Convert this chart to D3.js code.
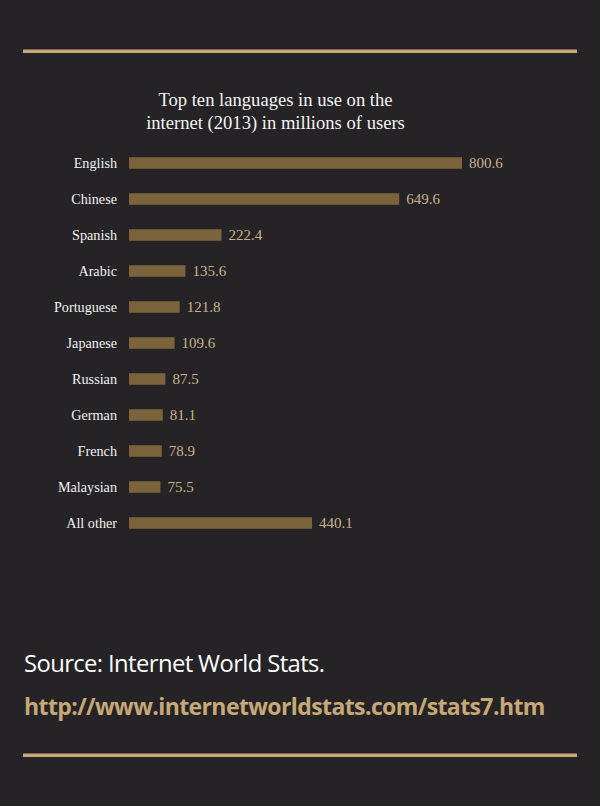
<!DOCTYPE html>
<html>
<head>
<meta charset="utf-8">
<script src="https://cdn.jsdelivr.net/npm/d3@7"></script>
<style>
  html, body { margin: 0; padding: 0; background: #252326; }
  svg { display: block; }
</style>
</head>
<body>
<script>
var width = 600, height = 806;

// data
var languages = ["English", "Chinese", "Spanish", "Arabic", "Portuguese", "Japanese",
                 "Russian", "German", "French", "Malaysian", "All other"];
var users = [800.6, 649.6, 222.4, 135.6, 121.8, 109.6, 87.5, 81.1, 78.9, 75.5, 440.1];
var titleLines = ["Top ten languages in use on the", "internet (2013) in millions of users"];
var sourceText = "Source: Internet World Stats.";
var sourceUrl = "http://www.internetworldstats.com/stats7.htm";

var gold = "#c7a877";
var barColor = "#7b633b";
var labelColor = "#c9b28b";
var serif = "'Liberation Serif', 'Times New Roman', serif";

var chart = {left: 129, top: 145, step: 36};

var x = d3.scaleLinear()
    .domain([0, 800.6])
    .range([0, 333]);

var y = d3.scaleBand()
    .domain(languages)
    .range([chart.top, chart.top + chart.step * languages.length])
    .paddingInner(0.68)
    .paddingOuter(0.34);

var svg = d3.select("body").append("svg")
    .attr("width", width)
    .attr("height", height);

svg.append("rect")
    .attr("width", width)
    .attr("height", height)
    .attr("fill", "#252326");

// rules top and bottom
svg.append("rect").attr("x", 23).attr("y", 49.5).attr("width", 554).attr("height", 3.5).attr("fill", gold);
svg.append("rect").attr("x", 23).attr("y", 753.5).attr("width", 554).attr("height", 3.5).attr("fill", gold);

// title
svg.append("g").selectAll("text")
    .data(titleLines)
    .enter().append("text")
    .attr("x", 275.5)
    .attr("y", function(d, i) { return 106 + i * 23; })
    .attr("text-anchor", "middle")
    .attr("fill", "#f2f2f2")
    .style("font-family", serif)
    .style("font-size", "18.6px")
    .text(function(d) { return d; });

var g = svg.append("g").attr("transform", "translate(" + chart.left + ",0)");

var rows = languages.map(function(d, i) { return {lang: d, value: users[i]}; });

g.selectAll(".bar")
    .data(rows)
    .enter().append("rect")
    .attr("class", "bar")
    .attr("x", 0)
    .attr("y", function(d) { return y(d.lang); })
    .attr("width", function(d) { return x(d.value); })
    .attr("height", y.bandwidth())
    .attr("fill", barColor);

var yAxis = d3.axisLeft(y).tickSize(0).tickPadding(12);
g.append("g")
    .call(yAxis)
    .call(function(a) { a.select(".domain").remove(); })
    .selectAll("text")
    .attr("fill", "#f0f0f0")
    .style("font-family", serif)
    .style("font-size", "14.2px");

g.selectAll(".val")
    .data(rows)
    .enter().append("text")
    .attr("class", "val")
    .attr("x", function(d) { return x(d.value) + 7; })
    .attr("y", function(d) { return y(d.lang) + y.bandwidth() / 2; })
    .attr("dy", "0.35em")
    .attr("fill", labelColor)
    .style("font-family", serif)
    .style("font-size", "15px")
    .text(function(d) { return d3.format(".1f")(d.value); });

// source
svg.append("text")
    .attr("x", 24)
    .attr("y", 672)
    .attr("fill", "#ffffff")
    .style("font-family", "'Open Sans', 'Noto Sans', sans-serif")
    .style("font-size", "23.8px")
    .style("letter-spacing", "-0.6px")
    .text(sourceText);

svg.append("text")
    .attr("x", 24)
    .attr("y", 715)
    .attr("fill", gold)
    .style("font-family", "'Open Sans', 'Noto Sans', sans-serif")
    .style("font-weight", "bold")
    .style("font-size", "23px")
    .style("letter-spacing", "-0.6px")
    .text(sourceUrl);
</script>
</body>
</html>
